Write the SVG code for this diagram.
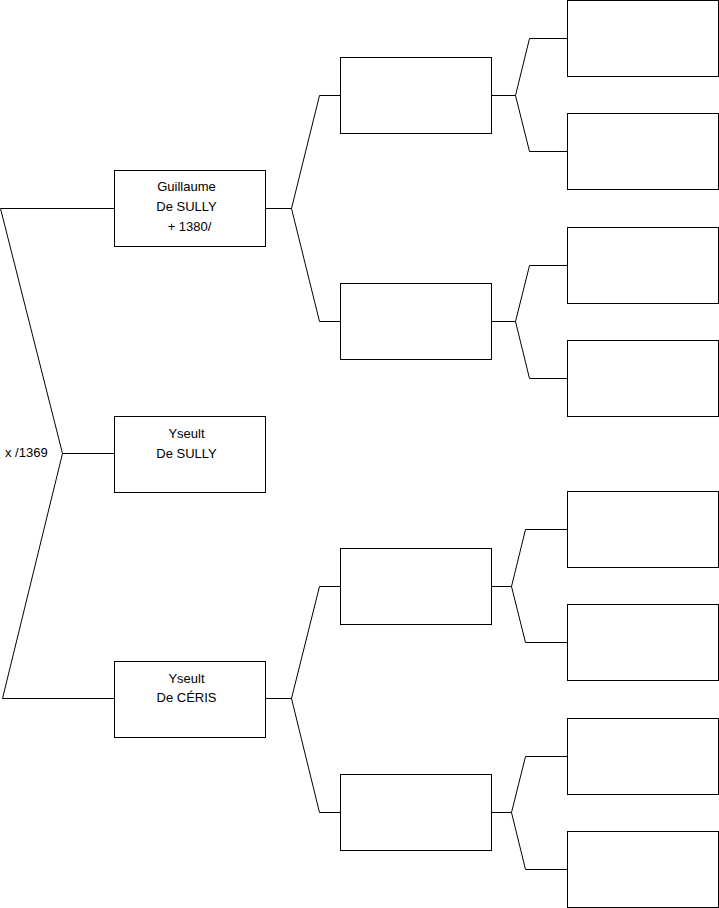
<svg xmlns="http://www.w3.org/2000/svg" width="719" height="908" viewBox="0 0 719 908">
<style>
.box{fill:#fff;stroke:#000;stroke-width:1}
.ln{fill:none;stroke:#000;stroke-width:1}
text{font-family:"Liberation Sans",Arial,sans-serif;font-size:13px;fill:#000}
.c{text-anchor:middle}
</style>
<rect width="719" height="908" fill="#fff"/>
<g id="connectors">
<polyline class="ln" points="114,208.5 0.5,208.5 62.5,453.5 2.5,698.5 114,698.5"/>
<line class="ln" x1="62.5" y1="453.5" x2="114" y2="453.5"/>
<polyline class="ln" points="265,208.5 291.5,208.5"/>
<polyline class="ln" points="340,95.5 319.5,95.5 291.5,208.5 319.5,321.5 340,321.5"/>
<polyline class="ln" points="265,698.5 291.5,698.5"/>
<polyline class="ln" points="340,586.5 319.5,586.5 291.5,698.5 319.5,812.5 340,812.5"/>
<line class="ln" x1="491" y1="95.5" x2="515.5" y2="95.5"/>
<polyline class="ln" points="567,38.5 529.5,38.5 515.5,95.5 529.5,151.5 567,151.5"/>
<line class="ln" x1="491" y1="321.5" x2="515.5" y2="321.5"/>
<polyline class="ln" points="567,265.5 529.5,265.5 515.5,321.5 529.5,378.5 567,378.5"/>
<line class="ln" x1="491" y1="586.5" x2="511.5" y2="586.5"/>
<polyline class="ln" points="567,529.5 525.5,529.5 511.5,586.5 525.5,642.5 567,642.5"/>
<line class="ln" x1="491" y1="812.5" x2="511.5" y2="812.5"/>
<polyline class="ln" points="567,756.5 525.5,756.5 511.5,812.5 525.5,869.5 567,869.5"/>
</g>
<text x="5" y="457">x /1369</text>
<g id="guillaume"><rect class="box" x="114.5" y="170.5" width="151" height="76"/>
<text class="c" x="186.5" y="191">Guillaume</text><text class="c" x="186.5" y="211">De SULLY</text><text class="c" x="189.5" y="231">+ 1380/</text></g>
<g id="yseult-sully"><rect class="box" x="114.5" y="416.5" width="151" height="76"/>
<text class="c" x="186.5" y="438">Yseult</text><text class="c" x="186.5" y="458">De SULLY</text></g>
<g id="yseult-ceris"><rect class="box" x="114.5" y="661.5" width="151" height="76"/>
<text class="c" x="186.5" y="683">Yseult</text><text class="c" x="186.5" y="702">De CÉRIS</text></g>
<g id="f1"><rect class="box" x="340.5" y="57.5" width="151" height="76"/></g>
<g id="m1"><rect class="box" x="340.5" y="283.5" width="151" height="76"/></g>
<g id="f2"><rect class="box" x="340.5" y="548.5" width="151" height="76"/></g>
<g id="m2"><rect class="box" x="340.5" y="774.5" width="151" height="76"/></g>
<g id="ff1"><rect class="box" x="567.5" y="0.5" width="151" height="76"/></g>
<g id="fm1"><rect class="box" x="567.5" y="113.5" width="151" height="76"/></g>
<g id="mf1"><rect class="box" x="567.5" y="227.5" width="151" height="76"/></g>
<g id="mm1"><rect class="box" x="567.5" y="340.5" width="151" height="76"/></g>
<g id="ff2"><rect class="box" x="567.5" y="491.5" width="151" height="76"/></g>
<g id="fm2"><rect class="box" x="567.5" y="604.5" width="151" height="76"/></g>
<g id="mf2"><rect class="box" x="567.5" y="718.5" width="151" height="76"/></g>
<g id="mm2"><rect class="box" x="567.5" y="831.5" width="151" height="76"/></g>
</svg>
